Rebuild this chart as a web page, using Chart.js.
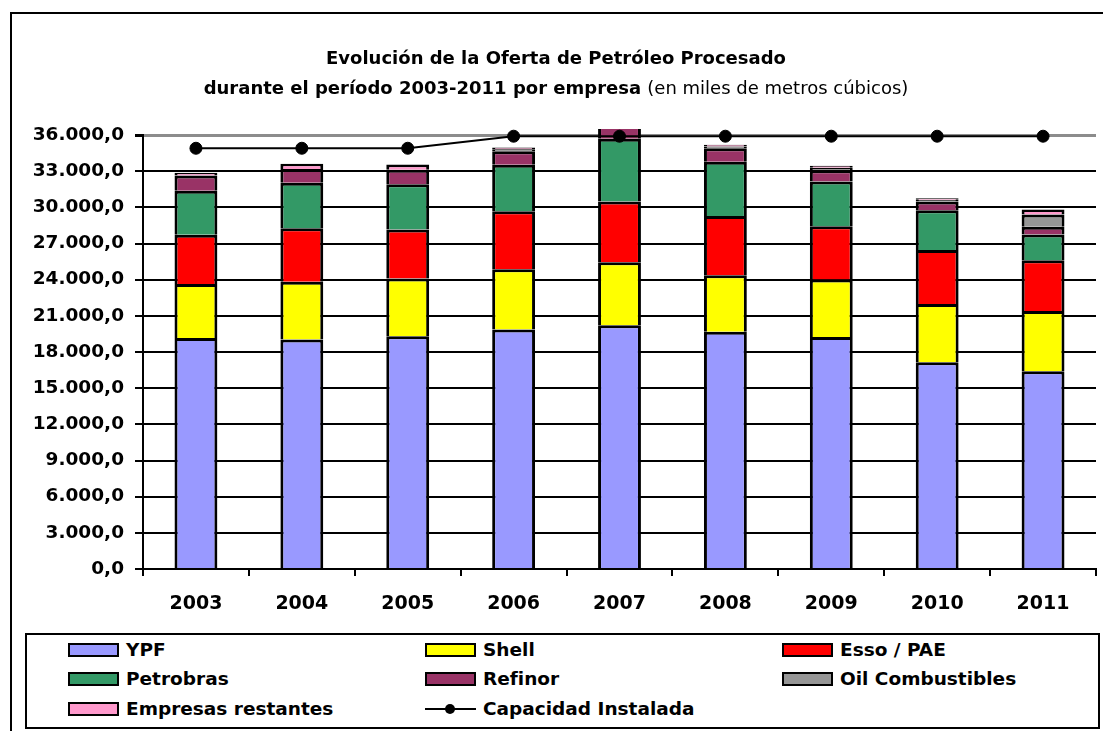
<!DOCTYPE html>
<html lang="es">
<head>
<meta charset="UTF-8">
<title>Oferta de Petróleo Procesado 2003-2011</title>
<style>
    body {
        margin: 0;
        width: 1103px;
        height: 731px;
        overflow: hidden;
        background: #fff;
        font-family: "DejaVu Sans", sans-serif;
        color: #000;
    }
    #frame {
        position: absolute;
        left: 10px;
        top: 12px;
        width: 1110px;
        height: 730px;
        border: 2px solid #000;
    }
    #chart {
        position: absolute;
        left: 0;
        top: 0;
    }
    #title {
        position: absolute;
        left: 11px;
        width: 1090px;
        top: 43px;
        text-align: center;
        font-size: 18px;
        font-weight: bold;
        line-height: 30px;
    }
    #title span { font-weight: normal; }
    #legend {
        position: absolute;
        left: 25px;
        top: 633px;
        width: 1071px;
        height: 92px;
        border: 2px solid #000;
        background: #fff;
    }
    .item {
        position: absolute;
        height: 20px;
        font-size: 18.5px;
        font-weight: bold;
        line-height: 20px;
        white-space: nowrap;
    }
    .item .txt { position: absolute; left: 58px; top: 0; }
    .item .box {
        position: absolute;
        left: 0;
        top: 3px;
        width: 47px;
        height: 10px;
        border: 2px solid #000;
    }
    .item .ln {
        position: absolute;
        left: 0;
        top: 9px;
        width: 51px;
        height: 2px;
        background: #000;
    }
    .item .dot {
        position: absolute;
        left: 20px;
        top: 5px;
        width: 10px;
        height: 10px;
        border-radius: 50%;
        background: #000;
    }
</style>
<script src="https://cdn.jsdelivr.net/npm/chart.js"></script>
</head>
<body>
<div id="frame"></div>
<canvas id="chart" width="1103" height="731"></canvas>
<div id="title">Evolución de la Oferta de Petróleo Procesado<br>durante el período 2003-2011 por empresa <span>(en miles de metros cúbicos)</span></div>
<div id="legend"></div>

<script>
    // datos (miles de m3)
    const years = ['2003', '2004', '2005', '2006', '2007', '2008', '2009', '2010', '2011'];
    const ypf       = [19170, 19030, 19300, 19860, 20220, 19670, 19250, 17150, 16400];
    const shell     = [4480, 4790, 4790, 5000, 5220, 4700, 4760, 4840, 5010];
    const esso      = [4070, 4450, 4070, 4820, 5040, 4920, 4420, 4480, 4200];
    const petrobras = [3650, 3760, 3760, 3850, 5200, 4490, 3710, 3290, 2130];
    const refinor   = [1270, 1160, 1190, 1130, 1100, 1120, 940, 720, 640];
    const oil       = [null, null, null, 150, 150, 150, 200, 150, 1020];
    const restantes = [220, 420, 440, 150, 100, 140, 160, 130, 420];
    const capacidad = [34900, 34900, 34900, 35900, 35900, 35900, 35900, 35900, 35900];

    const yMax = 36000;
    const yStep = 3000;

    const series = [
        { label: 'YPF', data: ypf, color: '#9999FF' },
        { label: 'Shell', data: shell, color: '#FFFF00' },
        { label: 'Esso / PAE', data: esso, color: '#FF0000' },
        { label: 'Petrobras', data: petrobras, color: '#339966' },
        { label: 'Refinor', data: refinor, color: '#993366' },
        { label: 'Oil Combustibles', data: oil, color: '#969696' },
        { label: 'Empresas restantes', data: restantes, color: '#FF99CC' }
    ];

    function fmt(v) {
        const s = Math.round(v).toString().replace(/\B(?=(\d{3})+(?!\d))/g, '.');
        return s + ',0';
    }

    const datasets = series.map(s => ({
        type: 'bar',
        label: s.label,
        data: s.data,
        backgroundColor: s.color,
        borderColor: '#000',
        borderWidth: 3,
        borderSkipped: 'start',
        barPercentage: 0.405,
        categoryPercentage: 1,
        order: 1,
        clip: { left: 10, top: 6, right: 10, bottom: 10 }
    }));

    datasets.unshift({
        type: 'line',
        label: 'Capacidad Instalada',
        data: capacidad,
        borderColor: '#000',
        backgroundColor: '#000',
        borderWidth: 2,
        pointRadius: 6,
        pointBorderWidth: 1,
        pointBackgroundColor: '#000',
        tension: 0,
        order: 0,
        stack: 'cap',
        clip: false
    });

    const bold = size => ({ family: '"DejaVu Sans", sans-serif', size: size, weight: 'bold' });

    new Chart(document.getElementById('chart'), {
        type: 'bar',
        data: { labels: years, datasets: datasets },
        options: {
            responsive: false,
            animation: false,
            layout: { padding: { top: 135, right: 2, bottom: 112, left: 0 } },
            plugins: {
                legend: { display: false },
                title: { display: false },
                tooltip: { enabled: false }
            },
            scales: {
                x: {
                    stacked: true,
                    grid: { offset: true, drawOnChartArea: false, drawTicks: true, tickLength: 7, color: '#000', lineWidth: 2 },
                    border: { color: '#000', width: 2 },
                    ticks: { color: '#000', font: bold(19), padding: 17, maxRotation: 0 },
                    afterFit: s => { s.height = 50; }
                },
                y: {
                    stacked: true,
                    min: 0,
                    max: yMax,
                    ticks: { stepSize: yStep, callback: fmt, color: '#000', font: bold(18.5), padding: 11 },
                    grid: {
                        color: c => (c.tick && c.tick.value === yMax) ? '#8c8c8c' : '#000',
                        lineWidth: c => (c.tick && c.tick.value === yMax) ? 3 : 2,
                        tickLength: 8,
                        tickColor: '#000'
                    },
                    border: { color: '#000', width: 2 },
                    afterFit: s => { s.width = 143; }
                }
            }
        }
    });

    // leyenda en tres columnas
    const legendOrder = ['YPF', 'Shell', 'Esso / PAE', 'Petrobras', 'Refinor', 'Oil Combustibles', 'Empresas restantes', 'Capacidad Instalada'];
    const colX = [41, 398, 755];
    const rowY = [5, 34, 64];
    const legend = document.getElementById('legend');
    legendOrder.forEach((name, i) => {
        const item = document.createElement('div');
        item.className = 'item';
        item.style.left = colX[i % 3] + 'px';
        item.style.top = rowY[Math.floor(i / 3)] + 'px';
        const s = series.find(x => x.label === name);
        if (s) {
            item.innerHTML = '<div class="box" style="background:' + s.color + '"></div><div class="txt">' + name + '</div>';
        } else {
            item.innerHTML = '<div class="ln"></div><div class="dot"></div><div class="txt">' + name + '</div>';
        }
        legend.appendChild(item);
    });
</script>
</body>
</html>
